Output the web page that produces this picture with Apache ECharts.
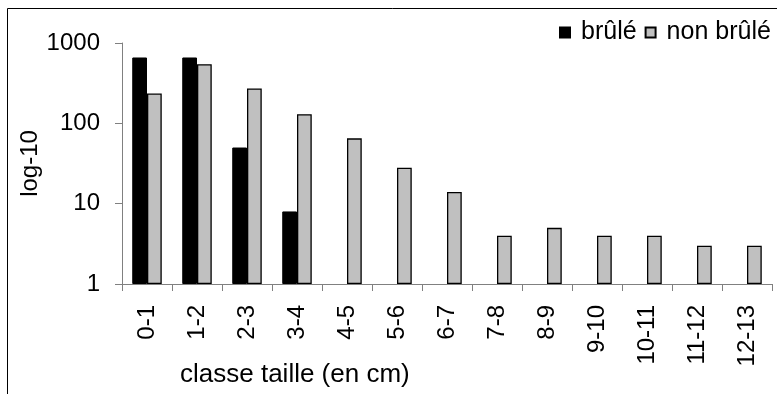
<!DOCTYPE html>
<html>
<head>
<meta charset="utf-8">
<script src="https://cdn.jsdelivr.net/npm/echarts@6/dist/echarts.min.js"></script>
<style>
html,body{margin:0;padding:0;background:#fff;}
#chart{width:777px;height:394px;}
</style>
</head>
<body>
<div id="chart"></div>
<script>
var categories = ['0-1','1-2','2-3','3-4','4-5','5-6','6-7','7-8','8-9','9-10','10-11','11-12','12-13'];
var brule = [660, 660, 50, 8, null, null, null, null, null, null, null, null, null];
var nonBrule = [235, 545, 272, 130, 65, 28, 14, 4, 5, 4, 4, 3, 3];
var yTicks = [1, 10, 100, 1000];
var seriesNames = ['brûlé', 'non brûlé'];
var xAxisTitle = 'classe taille (en cm)';
var yAxisTitle = 'log-10';

var FONT = '"Liberation Sans", Arial, sans-serif';
var chart = echarts.init(document.getElementById('chart'), null, {renderer: 'canvas'});
chart.setOption({
  animation: false,
  backgroundColor: '#fff',
  textStyle: {fontFamily: FONT},
  grid: {left: 122, right: 5, top: 43, bottom: 110, containLabel: false},
  legend: {
    data: seriesNames,
    left: 559, top: 20, padding: 0,
    itemWidth: 10, itemHeight: 10, itemGap: 8,
    icon: 'rect',
    textStyle: {fontSize: 25, color: '#000', fontFamily: FONT, padding: [0, 0, 0, 6]}
  },
  graphic: [
    {type: 'rect', shape: {x: 7.5, y: 8.5, width: 1000, height: 1000}, style: {fill: 'none', stroke: '#000', lineWidth: 1}, silent: true},
    {type: 'text', left: 180, top: 362, style: {text: xAxisTitle, fontSize: 26, fontFamily: FONT, fill: '#000'}}
  ],
  xAxis: {
    type: 'category',
    data: categories,
    axisLine: {lineStyle: {color: '#808080', width: 1}},
    axisTick: {show: true, length: 7, inside: false, alignWithLabel: false, lineStyle: {color: '#808080'}},
    axisLabel: {rotate: 90, margin: 21, fontSize: 24, color: '#000', fontFamily: FONT, interval: 0}
  },
  yAxis: {
    type: 'log',
    logBase: 10,
    min: yTicks[0],
    max: yTicks[yTicks.length - 1],
    name: yAxisTitle,
    nameLocation: 'middle',
    nameRotate: 90,
    nameGap: 80,
    nameMoveOverlap: false,
    nameTextStyle: {fontSize: 24, color: '#000', fontFamily: FONT},
    splitLine: {show: false},
    axisLine: {show: true, lineStyle: {color: '#808080', width: 1}},
    axisTick: {show: true, length: 7, inside: false, lineStyle: {color: '#808080'}},
    minorTick: {show: false},
    axisLabel: {margin: 22, fontSize: 24, color: '#000', fontFamily: FONT,
      formatter: function (v) { return String(Math.round(v)); }}
  },
  series: [
    {name: seriesNames[0], type: 'bar', data: brule, barGap: '0%', barCategoryGap: '41%',
     itemStyle: {color: '#000000', borderColor: '#000', borderWidth: 1}},
    {name: seriesNames[1], type: 'bar', data: nonBrule, barGap: '0%', barCategoryGap: '41%',
     itemStyle: {color: '#c0c0c0', borderColor: '#000', borderWidth: 1.3}}
  ]
});
</script>
</body>
</html>
